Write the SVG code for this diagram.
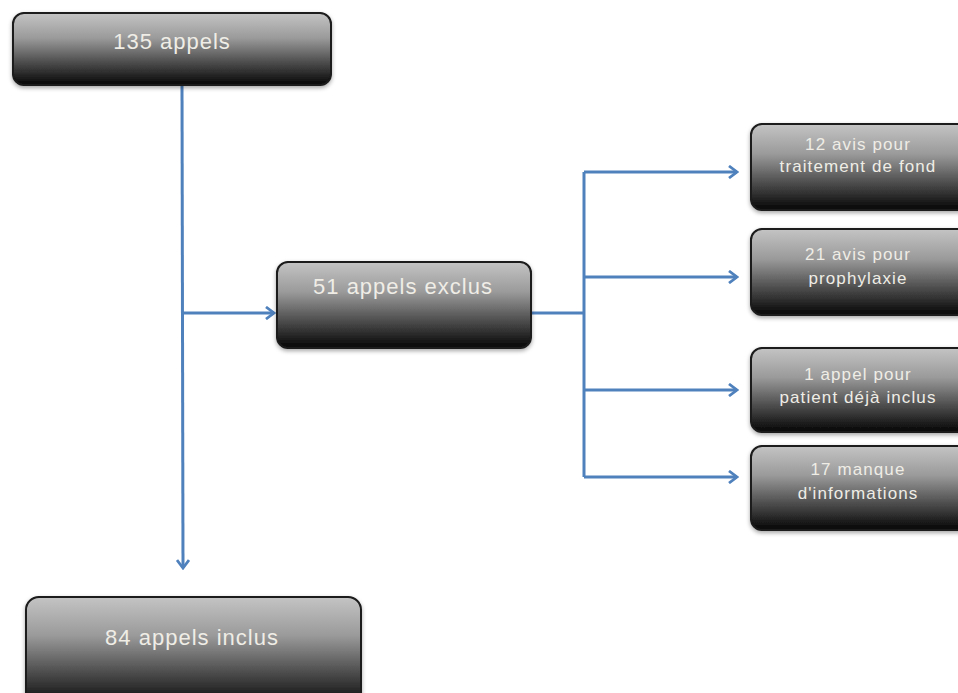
<svg xmlns="http://www.w3.org/2000/svg" width="958" height="693" viewBox="0 0 958 693">
<defs>
<linearGradient id="g" x1="0" y1="0" x2="0" y2="1">
<stop offset="0" stop-color="#c4c4c4"/>
<stop offset="0.35" stop-color="#9a9a9a"/>
<stop offset="1" stop-color="#050505"/>
</linearGradient>
<filter id="sh" x="-10%" y="-10%" width="120%" height="130%">
<feDropShadow dx="0" dy="2" stdDeviation="2" flood-color="#000" flood-opacity="0.35"/>
</filter>
<marker id="ah" viewBox="0 0 14 14" refX="12" refY="7" markerWidth="14" markerHeight="14" markerUnits="userSpaceOnUse" orient="auto">
<polyline points="4,1 12,7 4,13" fill="none" stroke="#4f81bd" stroke-width="2.8" stroke-linejoin="miter"/>
</marker>
</defs>
<style>
.box{fill:url(#g);stroke:#1a1a1a;stroke-width:2;filter:url(#sh)}
.t{fill:#efede6;font-family:"Liberation Sans",Arial,sans-serif;text-anchor:middle}
.big{font-size:22px;letter-spacing:1px}
.sm{font-size:17px;letter-spacing:1.1px}
.c{fill:none;stroke:#4f81bd;stroke-width:3}
</style>
<rect width="958" height="693" fill="#ffffff"/>
<g id="connectors">
<path class="c" d="M182,85 L183,568" marker-end="url(#ah)"/>
<path class="c" d="M183,313 L274,313" marker-end="url(#ah)"/>
<path class="c" d="M531,313 L584,313"/>
<path class="c" d="M584,172 L584,477"/>
<path class="c" d="M584,172 L737,172" marker-end="url(#ah)"/>
<path class="c" d="M584,277 L737,277" marker-end="url(#ah)"/>
<path class="c" d="M584,390 L737,390" marker-end="url(#ah)"/>
<path class="c" d="M584,477 L737,477" marker-end="url(#ah)"/>
</g>
<g id="n1">
<rect class="box" x="13" y="13" width="318" height="72" rx="11"/>
<text class="t big" x="172" y="49">135 appels</text>
</g>
<g id="n2">
<rect class="box" x="277" y="262" width="254" height="86" rx="11"/>
<text class="t big" x="403" y="294">51 appels exclus</text>
</g>
<g id="n3">
<rect class="box" x="751" y="124" width="220" height="86" rx="11"/>
<text class="t sm" x="858" y="150">12 avis pour</text>
<text class="t sm" x="858" y="172">traitement de fond</text>
</g>
<g id="n4">
<rect class="box" x="751" y="229" width="220" height="86" rx="11"/>
<text class="t sm" x="858" y="260">21 avis pour</text>
<text class="t sm" x="858" y="284">prophylaxie</text>
</g>
<g id="n5">
<rect class="box" x="751" y="348" width="220" height="84" rx="11"/>
<text class="t sm" x="858" y="380">1 appel pour</text>
<text class="t sm" x="858" y="403">patient déjà inclus</text>
</g>
<g id="n6">
<rect class="box" x="751" y="446" width="220" height="84" rx="11"/>
<text class="t sm" x="858" y="475">17 manque</text>
<text class="t sm" x="858" y="499">d'informations</text>
</g>
<g id="n7">
<rect class="box" x="26" y="597" width="335" height="110" rx="13"/>
<text class="t big" x="192" y="645">84 appels inclus</text>
</g>
</svg>
